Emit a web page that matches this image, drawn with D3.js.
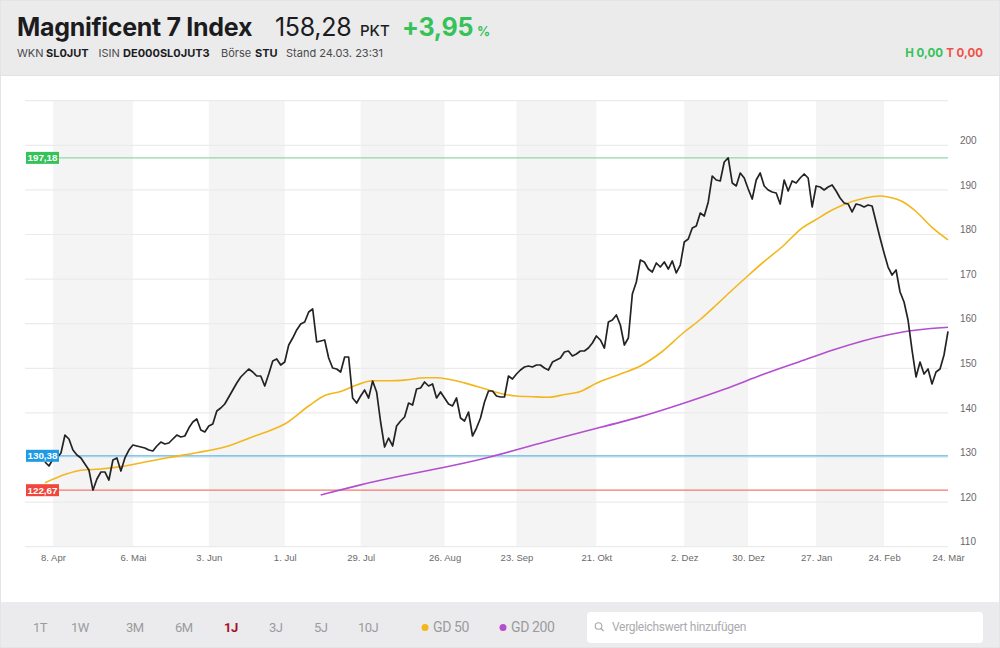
<!DOCTYPE html>
<html><head><meta charset="utf-8">
<script src="https://cdn.jsdelivr.net/npm/d3@7"></script>
<style>
html,body{margin:0;padding:0;background:#fff;}
svg{display:block;}
</style></head><body>
<svg id="c" width="1000" height="648"></svg>
<script>
// ---------- data ----------
const titleText = "Magnificent 7 Index";
const priceText = "158,28";
const changeText = "+3,95";
const closeStart = 5; // trading-day index of first close
const closeValues = [
128.99,128.09,129.66,129.89,131.01,135.04,134.15,131.68,130.56,129.89,
128.54,127.20,122.67,125.18,126.75,126.75,124.95,129.44,129.89,126.97,
129.89,131.68,132.80,132.58,132.35,132.13,131.68,131.46,132.58,133.47,
133.03,133.25,134.15,135.04,134.60,134.82,136.61,137.96,138.63,136.17,
135.72,137.06,137.51,140.43,141.10,142.00,143.56,145.13,146.70,148.05,
148.95,149.84,149.17,148.27,148.27,146.03,148.72,151.64,152.09,150.74,
151.41,155.22,156.79,158.59,159.93,160.38,162.62,163.30,155.90,156.12,
156.35,152.31,150.07,149.84,149.17,152.53,152.53,143.34,142.22,143.79,
145.13,143.34,147.15,144.69,137.96,132.35,134.37,132.58,137.06,138.18,
139.08,142.22,141.77,145.36,145.58,146.93,146.03,146.48,143.34,144.69,
143.34,142.00,141.55,143.34,138.86,138.18,140.20,134.82,136.61,138.86,
142.44,144.91,144.91,143.79,143.56,143.56,148.27,147.60,148.72,149.62,
150.29,150.51,150.29,150.74,150.74,150.07,149.62,151.41,151.86,152.31,
153.65,153.88,152.76,153.21,153.88,153.88,154.55,155.67,157.24,156.35,
154.55,160.38,160.83,161.95,159.71,155.22,156.79,166.66,169.35,174.28,
173.83,172.26,171.59,173.61,172.71,173.83,172.26,174.06,171.37,173.16,
178.32,178.99,181.46,181.91,184.82,184.15,187.29,193.12,192.22,192.00,
196.26,197.18,191.55,190.88,193.79,192.67,190.20,187.96,192.22,193.79,
190.88,189.98,189.53,189.31,186.84,192.22,189.75,192.00,191.55,192.67,
193.57,192.67,186.17,190.88,190.65,189.98,190.65,191.10,189.75,188.18,
187.06,186.84,185.05,186.84,186.61,186.17,186.61,186.39,182.80,179.22,
175.85,172.71,170.92,172.04,167.11,164.87,160.83,154.10,148.05,151.41,
148.72,149.84,146.48,149.17,149.84,152.98,158.28];

const gd50Days = [5,10,14,19,24,30,36,43,50,57,62,65,71,75,79,83,87,91,95,100,103,106,110,115,119,123,127,131,135,139,143,149,154,159,165,169,173,177,181,185,190,194,198,202,205,210,214,216,220,223,227,231];
const gd50Values = [124.35,126.19,127.15,127.42,127.96,128.99,130.00,131.08,132.35,134.64,136.30,137.51,141.55,143.90,144.80,146.26,147.20,147.22,147.35,147.89,147.89,147.56,146.73,145.40,144.37,143.79,143.63,143.50,144.13,144.80,146.64,148.72,150.52,153.43,158.14,160.94,164.19,167.56,170.81,173.95,177.65,181.12,183.36,185.49,186.73,188.12,188.63,188.41,187.18,185.16,181.61,178.81];

const gd200Days = [74,84,94,104,114,129,141,154,165,175,185,194,202,210,216,221,227,231];
const gd200Values = [121.59,123.94,125.85,127.65,129.44,133.25,136.10,139.00,142.20,145.20,148.80,151.50,154.10,156.30,157.50,158.40,158.97,159.19];

const tickDays = [7,27,46,65,84,105,123,143,165,181,198,215,231];
const tickLabels = ["8. Apr","6. Mai","3. Jun","1. Jul","29. Jul","26. Aug","23. Sep","21. Okt","2. Dez","30. Dez","27. Jan","24. Feb","24. Mär"];
const yTickValues = [110,120,130,140,150,160,170,180,190,200];
const gridValues = [110,120,130,140,150,160,170,180,190,200,210];
const levelValues = [197.18, 130.38, 122.67];
const levelLabels = ["197,18","130,38","122,67"];
const rangeButtons = ["1T","1W","3M","6M","1J","3J","5J","10J"];
const activeRange = "1J";

// ---------- drawing ----------
const svg = d3.select("#c");
const FONT = "Inter, 'Noto Sans', sans-serif";
const AX = "'Liberation Sans', Arial, sans-serif";
const green = "#35c259", red = "#f0524a";

svg.append("rect").attr("x",0).attr("y",0).attr("width",1000).attr("height",648).attr("fill","#fff");
// header
svg.append("rect").attr("x",0).attr("y",0).attr("width",1000).attr("height",75).attr("fill","#ebebec");
svg.append("line").attr("x1",0).attr("x2",1000).attr("y1",75.5).attr("y2",75.5).attr("stroke","#e2e2e4");
// bottom bar
svg.append("rect").attr("x",0).attr("y",602).attr("width",1000).attr("height",46).attr("fill","#ebebed");
// side borders
svg.append("rect").attr("x",0.5).attr("y",0.5).attr("width",999).attr("height",647).attr("fill","none").attr("stroke","#e4e4e6");

const head = svg.append("g");
head.append("text").attr("x",17).attr("y",36).attr("font-family",FONT).attr("font-weight",700)
  .attr("font-size",25).attr("fill","#1c1c1e").attr("letter-spacing",-0.3).text(titleText);
head.append("text").attr("x",275).attr("y",36).attr("font-family",FONT).attr("font-weight",400)
  .attr("font-size",25).attr("fill","#1c1c1e").attr("letter-spacing",-0.3).text(priceText);
head.append("text").attr("x",360).attr("y",36).attr("font-family",FONT).attr("font-weight",500)
  .attr("font-size",15).attr("fill","#1c1c1e").text("PKT");
head.append("text").attr("x",402).attr("y",36).attr("font-family",FONT).attr("font-weight",700)
  .attr("font-size",25).attr("fill",green).attr("letter-spacing",-0.3).text(changeText);
head.append("text").attr("x",477).attr("y",36).attr("font-family",FONT).attr("font-weight",700)
  .attr("font-size",13).attr("fill",green).text("%");

const sub = [["WKN",17,400],["SL0JUT",46,700],["ISIN",98.5,400],["DE000SL0JUT3",123,700],["Börse",221,400],["STU",255,700],["Stand 24.03. 23:31",286,400]];
sub.forEach(s => head.append("text").attr("x",s[1]).attr("y",56.5).attr("font-family",FONT)
  .attr("font-weight",s[2]).attr("font-size",11).attr("fill",s[2]===700?"#1c1c1e":"#4a4a4c").text(s[0]));
head.append("text").attr("x",943).attr("y",56.5).attr("text-anchor","end").attr("font-family",FONT)
  .attr("font-weight",700).attr("font-size",11.5).attr("fill",green).text("H 0,00");
head.append("text").attr("x",983).attr("y",56.5).attr("text-anchor","end").attr("font-family",FONT)
  .attr("font-weight",700).attr("font-size",11.5).attr("fill",red).text("T 0,00");

// scales
const x = d3.scaleLinear().domain([0,231]).range([25,948]);
const y = d3.scaleLinear().domain([110,210]).range([546.7,100.7]);

// month bands
const plot = svg.append("g");
const bands = [];
for (let k=0; k+1<tickDays.length; k+=2) bands.push([tickDays[k], tickDays[k+1]]);
plot.selectAll("rect.band").data(bands).enter().append("rect").attr("class","band")
  .attr("x",d=>x(d[0])).attr("width",d=>x(d[1])-x(d[0]))
  .attr("y",y(210)).attr("height",y(110)-y(210)).attr("fill","#f4f4f5");

// gridlines
plot.selectAll("line.grid").data(gridValues).enter().append("line").attr("class","grid")
  .attr("x1",x(0)).attr("x2",x(231)).attr("y1",d=>y(d)).attr("y2",d=>y(d))
  .attr("stroke","#ebebec").attr("stroke-width",1.2);

// y axis labels
const yAxis = svg.append("g").attr("transform",`translate(${x(231)},0)`)
  .call(d3.axisRight(y).tickValues(yTickValues).tickSize(0).tickPadding(12).tickFormat(d3.format("d")));
yAxis.select(".domain").remove();
yAxis.selectAll("text").attr("y",-5).attr("font-family",AX).attr("font-size",10).attr("fill","#6a6a6a");

// x axis labels
const xAxis = svg.append("g").attr("transform",`translate(0,${y(110)})`)
  .call(d3.axisBottom(x).tickValues(tickDays).tickSize(0).tickPadding(8).tickFormat((d,i)=>tickLabels[i]));
xAxis.select(".domain").remove();
xAxis.selectAll("text").attr("font-family",AX).attr("font-size",9.5).attr("fill","#6a6a6a");

// level lines
const levelColors = ["#8fd9a4","#5bb6e8","#f07a72"];
const levelBoxColors = ["#35c259","#1d9be6","#f0463c"];
levelValues.forEach((v,i)=>{
  plot.append("line").attr("x1",59).attr("x2",x(231)).attr("y1",y(v)).attr("y2",y(v))
    .attr("stroke",levelColors[i]).attr("stroke-width",1.2);
});

// series
const closeData = closeValues.map((v,i)=>({d:closeStart+i, v}));
const gd50Data = gd50Days.map((d,i)=>({d, v:gd50Values[i]}));
const gd200Data = gd200Days.map((d,i)=>({d, v:gd200Values[i]}));

plot.append("path").datum(gd200Data).attr("fill","none").attr("stroke","#b34fcf").attr("stroke-width",1.6)
  .attr("d", d3.line().x(p=>x(p.d)).y(p=>y(p.v)).curve(d3.curveBasis));
plot.append("path").datum(gd50Data).attr("fill","none").attr("stroke","#f3b71c").attr("stroke-width",1.6)
  .attr("d", d3.line().x(p=>x(p.d)).y(p=>y(p.v)).curve(d3.curveMonotoneX));
plot.append("path").datum(closeData).attr("fill","none").attr("stroke","#232323").attr("stroke-width",1.7)
  .attr("stroke-linejoin","round")
  .attr("d", d3.line().x(p=>x(p.d)).y(p=>y(p.v)));

// level label boxes on top
levelValues.forEach((v,i)=>{
  plot.append("rect").attr("x",26).attr("y",y(v)-6).attr("width",33).attr("height",12)
    .attr("fill",levelBoxColors[i]);
  plot.append("text").attr("x",42.5).attr("y",y(v)+3.6).attr("text-anchor","middle")
    .attr("font-family",AX).attr("font-weight",700).attr("font-size",9.5).attr("fill","#fff")
    .attr("textLength",30).attr("lengthAdjust","spacingAndGlyphs")
    .text(levelLabels[i]);
});

// bottom bar
const bar = svg.append("g");
const btnX = [33,71,126,175,224,269,314,358];
rangeButtons.forEach((b,i)=>{
  bar.append("text").attr("x",btnX[i]).attr("y",632).attr("font-family","Roboto, sans-serif")
    .attr("font-size",13).attr("letter-spacing",-0.5)
    .attr("font-weight", b===activeRange?700:400)
    .attr("fill", b===activeRange?"#a3122b":"#9b9b9d").text(b);
});
bar.append("circle").attr("cx",425).attr("cy",627.5).attr("r",3.5).attr("fill","#f3b71c");
bar.append("text").attr("x",433).attr("y",632).attr("font-family","Roboto, sans-serif").attr("font-size",14)
  .attr("letter-spacing",-0.4).attr("fill","#9b9b9d").text("GD 50");
bar.append("circle").attr("cx",503).attr("cy",627.5).attr("r",3.5).attr("fill","#b34fcf");
bar.append("text").attr("x",511).attr("y",632).attr("font-family","Roboto, sans-serif").attr("font-size",14)
  .attr("letter-spacing",-0.4).attr("fill","#9b9b9d").text("GD 200");
bar.append("rect").attr("x",587).attr("y",612).attr("width",396).attr("height",31).attr("rx",4).attr("fill","#fff");
bar.append("circle").attr("cx",598.5).attr("cy",626).attr("r",3.3).attr("fill","none").attr("stroke","#a8a8aa").attr("stroke-width",1.1);
bar.append("line").attr("x1",601).attr("y1",628.5).attr("x2",603.5).attr("y2",631).attr("stroke","#a8a8aa").attr("stroke-width",1.2);
bar.append("text").attr("x",612).attr("y",631).attr("font-family","Roboto, sans-serif").attr("font-size",12)
  .attr("letter-spacing",-0.3).attr("fill","#ababad").text("Vergleichswert hinzufügen");
</script>
</body></html>
